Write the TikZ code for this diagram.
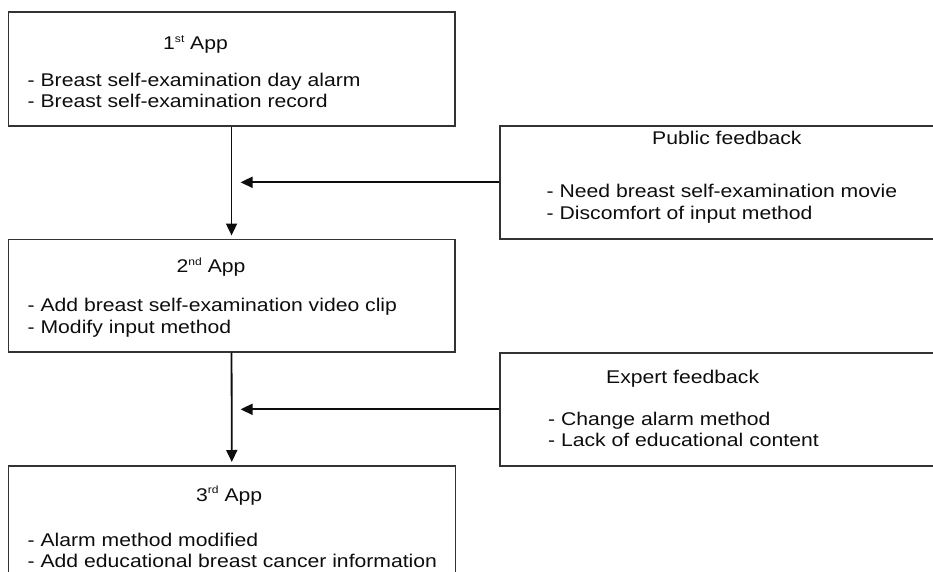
\documentclass[tikz,border=0pt]{standalone}
\usepackage{fontspec}
\setmainfont{Liberation Sans}[FakeStretch=1.15]
\usetikzlibrary{arrows.meta}

% small raised ordinal suffix
\newcommand{\ordsfx}[1]{\raisebox{7.5pt}{\fontsize{10.5}{10.5}\selectfont #1}}

\begin{document}
\begin{tikzpicture}[x=1pt,y=-1pt,
  stagebox/.style={draw=black!80, line width=1.6pt, rectangle, inner sep=0pt, anchor=north west},
  txt/.style={anchor=base west, inner sep=0pt, text=black!95,
    font=\fontsize{18.4}{21.5}\selectfont},
  flow/.style={draw=black!95, line width=1.8pt,
    -{Triangle[length=12pt,width=11pt]}}
]
% page frame; wide boxes run past the right and bottom edges
\clip (0,0) rectangle (933,572);

% app versions (left column)
\node[stagebox, minimum width=446.5pt, minimum height=114pt] (b1) at (7.5,11) {};
\node[stagebox, minimum width=446.5pt, minimum height=112.5pt] (b2) at (7.5,238.5) {};
\node[stagebox, minimum width=447pt, minimum height=140pt] (b3) at (7.5,465) {};

% feedback rounds (right column)
\node[stagebox, minimum width=450pt, minimum height=113pt] (pub) at (499,125) {};
\node[stagebox, minimum width=450pt, minimum height=113pt] (exp) at (499,352) {};

% texts of the first app
\node[txt] (t1) at (163,50) {1\ordsfx{st} App};
\node[txt] (t1a) at (27.5,86.7) {- Breast self-examination day alarm};
\node[txt] (t1b) at (27.5,107.8) {- Breast self-examination record};

% texts of the second app
\node[txt] (t2) at (176.5,272.7) {2\ordsfx{nd} App};
\node[txt] (t2a) at (27.5,311) {- Add breast self-examination video clip};
\node[txt] (t2b) at (27.5,333) {- Modify input method};

% texts of the third app
\node[txt] (t3) at (196,501) {3\ordsfx{rd} App};
\node[txt] (t3a) at (27.5,546) {- Alarm method modified};
\node[txt] (t3b) at (27.5,567.5) {- Add educational breast cancer information};

% public feedback
\node[txt] (tp) at (652,145) {Public feedback};
\node[txt] (tpa) at (546.5,197.3) {- Need breast self-examination movie};
\node[txt] (tpb) at (546.5,219) {- Discomfort of input method};

% expert feedback
\node[txt] (te) at (606,383.3) {Expert feedback};
\node[txt] (tea) at (548,425) {- Change alarm method};
\node[txt] (teb) at (548,446.7) {- Lack of educational content};

% connectors
\coordinate (m1) at (b1.south |- pub.west);
\coordinate (m2) at (b2.south |- exp.west);
\draw[flow, shorten >=3pt] (b1.south) -- (b2.north);
\draw[flow, shorten >=3pt] (b2.south) -- (b3.north);
\draw[flow, shorten >=9pt] (pub.west) -- (m1);
\draw[flow, shorten >=9pt] (exp.west) -- (m2);
\end{tikzpicture}
\end{document}
